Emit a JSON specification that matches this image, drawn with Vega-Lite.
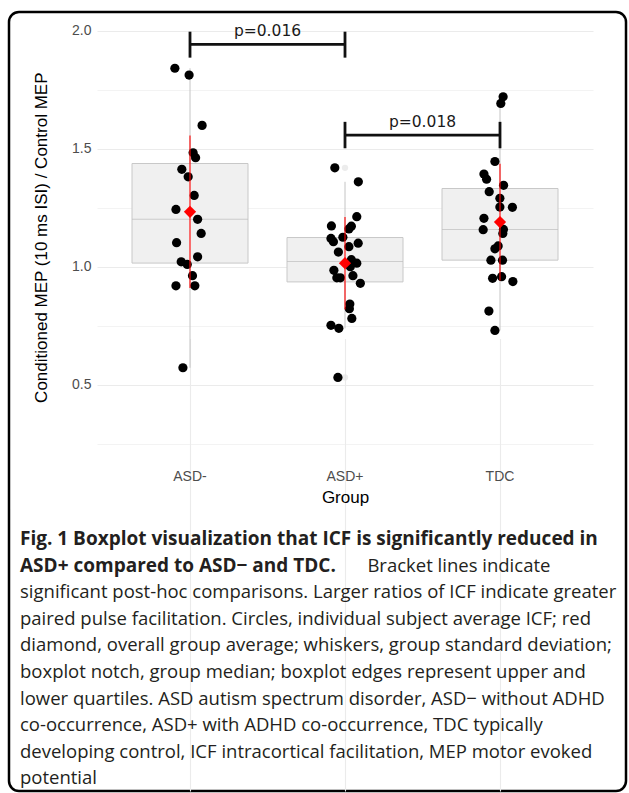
{
  "$schema": "https://vega.github.io/schema/vega-lite/v6.json",
  "width": 617,
  "height": 779,
  "autosize": "none",
  "padding": {"left": 9, "top": 12, "right": 3, "bottom": 2},
  "background": "white",
  "config": {
    "view": {"stroke": "#000000", "strokeWidth": 2.5, "cornerRadius": 10, "fill": "white"},
    "font": "Liberation Sans"
  },
  "title": {
    "text": ["Fig. 1 Boxplot visualization that ICF is significantly reduced in", "ASD+ compared to ASD\u2212 and TDC."],
    "subtitle": [
      "\u200b\u2003\u2003\u2003\u2003\u2003\u2003\u2003\u2003\u2003\u2003\u2003\u2003\u2003\u2003\u2003\u2003\u2003\u2003\u00a0\u00a0\u00a0Bracket lines indicate",
      "significant post-hoc comparisons. Larger ratios of ICF indicate greater",
      "paired pulse facilitation. Circles, individual subject average ICF; red",
      "diamond, overall group average; whiskers, group standard deviation;",
      "boxplot notch, group median; boxplot edges represent upper and",
      "lower quartiles. ASD autism spectrum disorder, ASD\u2212 without ADHD",
      "co-occurrence, ASD+ with ADHD co-occurrence, TDC typically",
      "developing control, ICF intracortical facilitation, MEP motor evoked",
      "potential"
    ],
    "orient": "bottom",
    "anchor": "start",
    "frame": "group",
    "offset": -261,
    "dx": 11,
    "baseline": "top",
    "font": "Open Sans",
    "fontSize": 19,
    "fontWeight": "bold",
    "color": "#231F20",
    "lineHeight": 26.6,
    "subtitleFont": "Open Sans",
    "subtitleFontSize": 18.5,
    "subtitleFontWeight": "normal",
    "subtitleColor": "#231F20",
    "subtitleLineHeight": 26.6,
    "subtitlePadding": -19
  },
  "datasets": {
    "pts": [
      {"group": "ASD-", "value": 1.841, "jitter": -0.097},
      {"group": "ASD-", "value": 1.812, "jitter": -0.005},
      {"group": "ASD-", "value": 1.599, "jitter": 0.079},
      {"group": "ASD-", "value": 1.483, "jitter": 0.021},
      {"group": "ASD-", "value": 1.462, "jitter": 0.037},
      {"group": "ASD-", "value": 1.413, "jitter": -0.052},
      {"group": "ASD-", "value": 1.381, "jitter": -0.011},
      {"group": "ASD-", "value": 1.302, "jitter": 0.028},
      {"group": "ASD-", "value": 1.243, "jitter": -0.090},
      {"group": "ASD-", "value": 1.201, "jitter": 0.050},
      {"group": "ASD-", "value": 1.141, "jitter": 0.073},
      {"group": "ASD-", "value": 1.102, "jitter": -0.086},
      {"group": "ASD-", "value": 1.042, "jitter": 0.050},
      {"group": "ASD-", "value": 1.021, "jitter": -0.056},
      {"group": "ASD-", "value": 1.010, "jitter": -0.017},
      {"group": "ASD-", "value": 0.962, "jitter": 0.017},
      {"group": "ASD-", "value": 0.919, "jitter": -0.090},
      {"group": "ASD-", "value": 0.919, "jitter": 0.032},
      {"group": "ASD-", "value": 0.572, "jitter": -0.045},
      {"group": "ASD+", "value": 1.419, "jitter": -0.065},
      {"group": "ASD+", "value": 1.360, "jitter": 0.087},
      {"group": "ASD+", "value": 1.212, "jitter": 0.077},
      {"group": "ASD+", "value": 1.173, "jitter": -0.087},
      {"group": "ASD+", "value": 1.172, "jitter": 0.042},
      {"group": "ASD+", "value": 1.160, "jitter": 0.026},
      {"group": "ASD+", "value": 1.125, "jitter": -0.013},
      {"group": "ASD+", "value": 1.120, "jitter": -0.090},
      {"group": "ASD+", "value": 1.106, "jitter": -0.074},
      {"group": "ASD+", "value": 1.100, "jitter": 0.086},
      {"group": "ASD+", "value": 1.085, "jitter": 0.026},
      {"group": "ASD+", "value": 1.062, "jitter": -0.042},
      {"group": "ASD+", "value": 1.030, "jitter": 0.042},
      {"group": "ASD+", "value": 1.015, "jitter": 0.077},
      {"group": "ASD+", "value": 1.000, "jitter": 0.035},
      {"group": "ASD+", "value": 0.985, "jitter": -0.071},
      {"group": "ASD+", "value": 0.962, "jitter": 0.052},
      {"group": "ASD+", "value": 0.953, "jitter": -0.052},
      {"group": "ASD+", "value": 0.953, "jitter": -0.029},
      {"group": "ASD+", "value": 0.930, "jitter": 0.100},
      {"group": "ASD+", "value": 0.842, "jitter": 0.032},
      {"group": "ASD+", "value": 0.822, "jitter": 0.029},
      {"group": "ASD+", "value": 0.781, "jitter": 0.045},
      {"group": "ASD+", "value": 0.752, "jitter": -0.090},
      {"group": "ASD+", "value": 0.739, "jitter": -0.039},
      {"group": "ASD+", "value": 0.531, "jitter": -0.045},
      {"group": "TDC", "value": 1.720, "jitter": 0.021},
      {"group": "TDC", "value": 1.692, "jitter": 0.006},
      {"group": "TDC", "value": 1.446, "jitter": -0.032},
      {"group": "TDC", "value": 1.393, "jitter": -0.103},
      {"group": "TDC", "value": 1.371, "jitter": -0.086},
      {"group": "TDC", "value": 1.345, "jitter": 0.024},
      {"group": "TDC", "value": 1.318, "jitter": -0.069},
      {"group": "TDC", "value": 1.290, "jitter": 0.000},
      {"group": "TDC", "value": 1.253, "jitter": 0.000},
      {"group": "TDC", "value": 1.252, "jitter": 0.081},
      {"group": "TDC", "value": 1.205, "jitter": -0.103},
      {"group": "TDC", "value": 1.157, "jitter": -0.108},
      {"group": "TDC", "value": 1.158, "jitter": 0.023},
      {"group": "TDC", "value": 1.141, "jitter": 0.019},
      {"group": "TDC", "value": 1.088, "jitter": -0.011},
      {"group": "TDC", "value": 1.076, "jitter": -0.032},
      {"group": "TDC", "value": 1.028, "jitter": -0.058},
      {"group": "TDC", "value": 1.028, "jitter": 0.017},
      {"group": "TDC", "value": 0.958, "jitter": 0.011},
      {"group": "TDC", "value": 0.951, "jitter": -0.047},
      {"group": "TDC", "value": 0.937, "jitter": 0.084},
      {"group": "TDC", "value": 0.812, "jitter": -0.071},
      {"group": "TDC", "value": 0.730, "jitter": -0.032}
    ],
    "brackets": [
      {"g1": "ASD-", "g2": "ASD+", "y": 1.942, "lo": 1.886, "hi": 1.996, "label": "p=0.016"},
      {"g1": "ASD+", "g2": "TDC", "y": 1.558, "lo": 1.502, "hi": 1.614, "label": "p=0.018"}
    ]
  },
  "layer": [
    {
      "data": {"name": "pts"},
      "mark": {
        "type": "boxplot",
        "extent": 1.5,
        "size": 116,
        "ticks": false,
        "box": {"fill": "#F0F0F0", "stroke": "#C8C8C8", "strokeWidth": 1},
        "median": {"color": "#BDBDBD", "strokeWidth": 1.5},
        "rule": {"color": "#C4C4C4", "strokeWidth": 1},
        "outliers": {"color": "#E4E4E4", "filled": true, "size": 40}
      },
      "encoding": {
        "x": {
          "field": "group", "type": "nominal", "title": "Group",
          "scale": {"domain": ["ASD-", "ASD+", "TDC"], "range": [88, 584], "paddingInner": 0.25, "paddingOuter": 0.225},
          "axis": {
            "grid": true, "gridColor": "#EBEBEB", "gridWidth": 1.1, "bandPosition": 0.5,
            "domain": false, "ticks": false, "labelAngle": 0,
            "labelFont": "Liberation Sans", "labelFontSize": 14, "labelColor": "#4D4D4D", "labelPadding": 5, "labelBaseline": "top",
            "offset": -326.6,
            "titleX": 336, "titleY": 33, "titleBaseline": "middle",
            "titleFont": "Liberation Sans", "titleFontSize": 17, "titleFontWeight": "normal", "titleColor": "#000000"
          }
        },
        "y": {
          "field": "value", "type": "quantitative", "title": "Conditioned MEP (10 ms ISI) / Control MEP",
          "scale": {"domain": [0.1625, 2.0794], "range": [452.4, 0], "nice": false, "zero": false},
          "axis": {
            "values": [0.25, 0.5, 0.75, 1, 1.25, 1.5, 1.75, 2],
            "labelExpr": "(datum.value * 4) % 2 == 1 ? '' : format(datum.value, '.1f')",
            "grid": true, "gridColor": "#EBEBEB",
            "gridWidth": {"condition": {"test": "(datum.value * 4) % 2 == 1", "value": 0.6}, "value": 1.1},
            "domain": false, "ticks": false,
            "labelFont": "Liberation Sans", "labelFontSize": 14, "labelColor": "#4D4D4D", "labelPadding": 6,
            "offset": -88,
            "titleX": -56, "titleY": 225.2, "titleAngle": -90, "titleBaseline": "middle", "titleAlign": "center",
            "titleFont": "Liberation Sans", "titleFontSize": 17, "titleFontWeight": "normal", "titleColor": "#000000"
          }
        }
      }
    },
    {
      "data": {"name": "pts"},
      "mark": {"type": "circle", "color": "#000000", "opacity": 1, "size": 85},
      "encoding": {
        "x": {"field": "group", "type": "nominal", "title": "Group"},
        "xOffset": {"field": "jitter", "type": "quantitative", "scale": {"domain": [-0.375, 0.375], "range": [0, 116]}},
        "y": {"field": "value", "type": "quantitative", "title": "Conditioned MEP (10 ms ISI) / Control MEP"}
      }
    },
    {
      "data": {"name": "pts"},
      "mark": {"type": "errorbar", "extent": "stdev", "color": "#FF0000", "thickness": 1.1},
      "encoding": {
        "x": {"field": "group", "type": "nominal", "title": "Group"},
        "y": {"field": "value", "type": "quantitative", "title": "Conditioned MEP (10 ms ISI) / Control MEP"}
      }
    },
    {
      "data": {"name": "pts"},
      "mark": {"type": "point", "shape": "diamond", "filled": true, "color": "#FF0000", "opacity": 1, "size": 150},
      "encoding": {
        "x": {"field": "group", "type": "nominal", "title": "Group"},
        "y": {"aggregate": "mean", "field": "value", "type": "quantitative", "title": "Conditioned MEP (10 ms ISI) / Control MEP"}
      }
    },
    {
      "data": {"name": "brackets"},
      "mark": {"type": "rule", "color": "#111111", "strokeWidth": 2.8},
      "encoding": {
        "x": {"field": "g1", "type": "nominal", "bandPosition": 0.5, "title": "Group"},
        "x2": {"field": "g2", "bandPosition": 0.5},
        "y": {"field": "y", "type": "quantitative", "title": "Conditioned MEP (10 ms ISI) / Control MEP"}
      }
    },
    {
      "data": {"name": "brackets"},
      "mark": {"type": "rule", "color": "#111111", "strokeWidth": 2.8},
      "encoding": {
        "x": {"field": "g1", "type": "nominal", "bandPosition": 0.5, "title": "Group"},
        "y": {"field": "lo", "type": "quantitative", "title": "Conditioned MEP (10 ms ISI) / Control MEP"},
        "y2": {"field": "hi"}
      }
    },
    {
      "data": {"name": "brackets"},
      "mark": {"type": "rule", "color": "#111111", "strokeWidth": 2.8},
      "encoding": {
        "x": {"field": "g2", "type": "nominal", "bandPosition": 0.5, "title": "Group"},
        "y": {"field": "lo", "type": "quantitative", "title": "Conditioned MEP (10 ms ISI) / Control MEP"},
        "y2": {"field": "hi"}
      }
    },
    {
      "data": {"name": "brackets"},
      "mark": {"type": "text", "dx": 77.5, "dy": -8, "baseline": "alphabetic", "align": "center", "font": "DejaVu Sans", "fontSize": 15.5, "color": "#1A1A1A"},
      "encoding": {
        "x": {"field": "g1", "type": "nominal", "bandPosition": 0.5, "title": "Group"},
        "y": {"field": "y", "type": "quantitative", "title": "Conditioned MEP (10 ms ISI) / Control MEP"},
        "text": {"field": "label"}
      }
    }
  ]
}
